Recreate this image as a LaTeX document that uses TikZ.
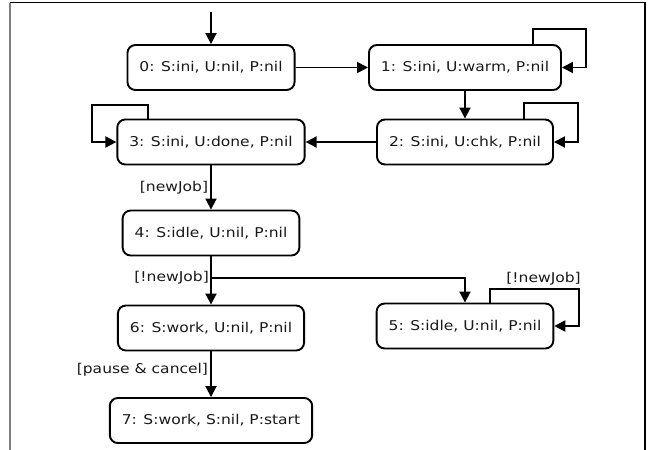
\documentclass[tikz,border=0pt]{standalone}
\usepackage{fontspec}
\setmainfont{DejaVu Sans}[FakeStretch=1.15]
\usetikzlibrary{arrows.meta}

\begin{document}
\begin{tikzpicture}[x=1pt,y=-1pt,
      every node/.style={font=\fontsize{13.5}{16}\selectfont,text=black!90},
      state/.style={draw=black,rounded corners=8pt,line width=1.9pt,minimum height=45pt,inner xsep=12pt},
      trans/.style={line width=1.9pt,-{Triangle[length=11pt,width=11pt]}},
      guard/.style={inner sep=2pt}]
    \useasboundingbox (0,0) rectangle (649,450);
    \draw[black!50,line width=1.5pt] (10,450) -- (10,2.5);
    \draw[line width=1.5pt] (10,2.5) -- (645,2.5) -- (645,450);

    \node[state] (s0) at (211,67.5) {0: S:ini, U:nil, P:nil};
    \node[state] (s1) at (465,67.5) {1: S:ini, U:warm, P:nil};
    \node[state] (s2) at (465,142) {2: S:ini, U:chk, P:nil};
    \node[state] (s3) at (211,142) {3: S:ini, U:done, P:nil};
    \node[state] (s4) at (211,233) {4: S:idle, U:nil, P:nil};
    \node[state] (s5) at (465,326) {5: S:idle, U:nil, P:nil};
    \node[state] (s6) at (211,328) {6: S:work, U:nil, P:nil};
    \node[state] (s7) at (211,420.5) {7: S:work, S:nil, P:start};

    \coordinate (init) at (211,12);
    \coordinate (fork) at (211,278);

    \draw[trans] (init) -- (s0);
    \draw[trans] (s0) -- (s1);
    \draw[trans] (s1) -- (s2);
    \draw[trans] (s2) -- (s3);
    \draw[trans] (s3) -- node[guard,left] {[newJob]} (s4);
    \draw[trans] (s4) -- (s6);
    \path (fork) node[guard,left] {[!newJob]};
    \draw[trans] (fork) -| (s5);
    \draw[trans] (s6) -- node[guard,left,pos=0.4] {[pause \& cancel]} (s7);

    % self loops
    \draw[trans] ([xshift=68pt]s1.north) -- ++(0,-15) -| ([xshift=24pt]s1.east) -- (s1.east);
    \draw[trans] ([xshift=59pt]s2.north) -- ++(0,-16) -| ([xshift=24pt]s2.east) -- (s2.east);
    \draw[trans] ([xshift=-63pt]s3.north) -- ++(0,-14) -| ([xshift=-24pt]s3.west) -- (s3.west);
    \draw[trans] ([xshift=25pt]s5.north) -- ++(0,-14)
      -| node[guard,above,pos=0.3] {[!newJob]} ([xshift=25pt]s5.east) -- (s5.east);
\end{tikzpicture}
\end{document}
